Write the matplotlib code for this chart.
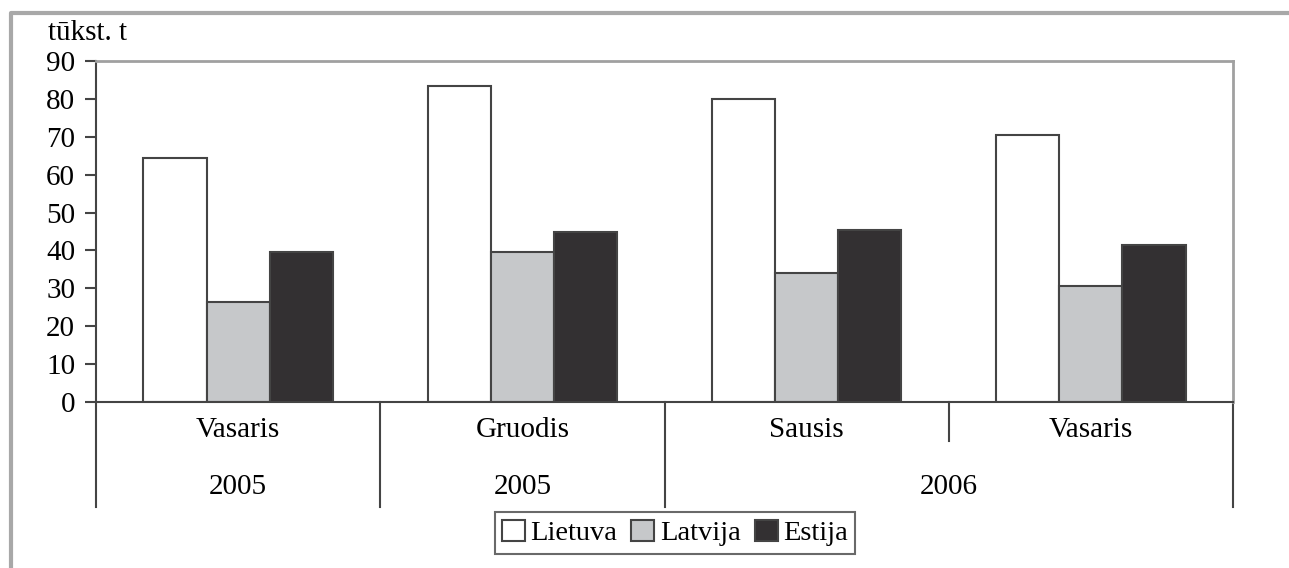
import numpy as np
import matplotlib
matplotlib.use("Agg")
import matplotlib.pyplot as plt
from matplotlib.lines import Line2D

plt.rcParams['font.family'] = ['Liberation Serif', 'DejaVu Serif']

# data
months = ['Vasaris', 'Gruodis', 'Sausis', 'Vasaris']
years = ['2005', '2005', '2006']
year_spans = [(0, 0), (1, 1), (2, 3)]
series = ['Lietuva', 'Latvija', 'Estija']
lietuva = [64.5, 83.5, 80.0, 70.5]
latvija = [26.5, 39.5, 34.0, 30.5]
estija = [39.5, 45.0, 45.5, 41.5]

colors = ['#ffffff', '#c6c8ca', '#333032']
edge = '#444444'
fs = 21

fig = plt.figure(figsize=(12.89, 5.68), dpi=100)
W, H = 1289, 568
ax = fig.add_axes([96 / W, 1 - 402 / H, (1233 - 96) / W, (402 - 61) / H])

x = np.arange(len(months))
bw = 0.222
for i, (vals, c, name) in enumerate(zip([lietuva, latvija, estija], colors, series)):
    ax.bar(x + (i - 1) * bw, vals, bw, color=c, edgecolor=edge, linewidth=1.5,
           label=name, zorder=2)

ax.set_xlim(-0.5, len(months) - 0.5)
ax.set_ylim(0, 90)
ax.set_yticks(range(0, 91, 10))
ax.set_xticks([])
ax.tick_params(axis='y', direction='out', length=8, width=1.5, color=edge,
               labelsize=fs, pad=7)

for s in ['left', 'bottom']:
    ax.spines[s].set_color(edge)
    ax.spines[s].set_linewidth(1.5)
for s in ['top', 'right']:
    ax.spines[s].set_color('#a0a0a0')
    ax.spines[s].set_linewidth(2)

# category axis below
tr = ax.get_xaxis_transform()
for b in np.arange(-0.5, len(months)):
    low = -0.114 if b == 2.5 else -0.308
    ax.plot([b, b], [0, low], transform=tr, color=edge, lw=1.5, clip_on=False)
for xi, m in zip(x, months):
    ax.text(xi, -0.082, m, transform=tr, ha='center', va='center', fontsize=fs)
for (a, b), yr in zip(year_spans, years):
    ax.text((a + b) / 2, -0.25, yr, transform=tr, ha='center', va='center', fontsize=fs)

ax.text(48 / W, 1 - 33 / H, 'tūkst. t', transform=fig.transFigure,
        ha='left', va='center', fontsize=fs)

leg = fig.legend(loc='center', bbox_to_anchor=(675 / W, 1 - 533 / H), ncol=3,
                 fontsize=fs - 0.5, frameon=True, fancybox=False, handlelength=0.8,
                 handleheight=0.8, handletextpad=0.2, columnspacing=0.5,
                 borderpad=0.25, borderaxespad=0)
leg.get_frame().set_edgecolor(edge)
leg.get_frame().set_linewidth(1.5)

# outer gray frame
fig.add_artist(Line2D([11 / W, 11 / W, 1.0], [0.0, 1 - 13 / H, 1 - 13 / H],
                      transform=fig.transFigure, color='#a8a8a8', lw=3))

fig.savefig('out.png', dpi=100)
